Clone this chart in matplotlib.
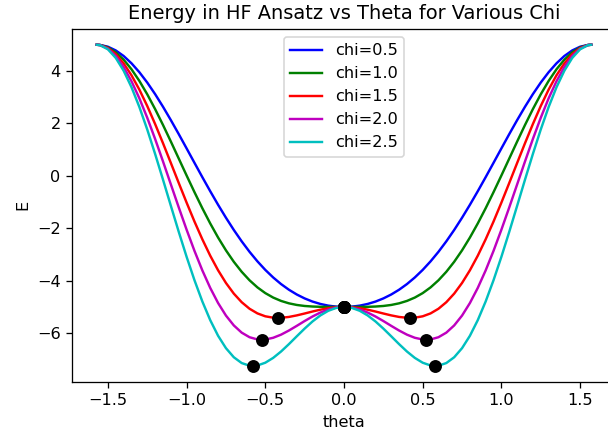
import matplotlib
matplotlib.use("Agg")
import matplotlib.pyplot as plt

# theta grid
theta = [-1.571, -1.55, -1.5, -1.45, -1.4, -1.35, -1.3, -1.25, -1.2, -1.15, -1.1,
         -1.05, -1.0, -0.95, -0.9, -0.85, -0.8, -0.75, -0.7, -0.65, -0.6, -0.55,
         -0.5, -0.45, -0.4, -0.35, -0.3, -0.25, -0.2, -0.15, -0.1, -0.05,
         0.0,
         0.05, 0.1, 0.15, 0.2, 0.25, 0.3, 0.35, 0.4, 0.45, 0.5, 0.55, 0.6, 0.65,
         0.7, 0.75, 0.8, 0.85, 0.9, 0.95, 1.0, 1.05, 1.1, 1.15, 1.2, 1.25, 1.3,
         1.35, 1.4, 1.45, 1.5, 1.55, 1.571]

chis = [0.5, 1.0, 1.5, 2.0, 2.5]
colors = ['b', 'g', 'r', 'm', 'c']

E_05 = [5.000, 4.994, 4.925, 4.783, 4.571, 4.292, 3.952, 3.558, 3.117, 2.636, 2.125,
        1.593, 1.047, 0.497, -0.050, -0.585, -1.103, -1.597, -2.064, -2.498, -2.898,
        -3.261, -3.587, -3.875, -4.127, -4.343, -4.525, -4.675, -4.795, -4.886,
        -4.950, -4.988,
        -5.000,
        -4.988, -4.950, -4.886, -4.795, -4.675, -4.525, -4.343, -4.127, -3.875,
        -3.587, -3.261, -2.898, -2.498, -2.064, -1.597, -1.103, -0.585, -0.050,
        0.497, 1.047, 1.593, 2.125, 2.636, 3.117, 3.558, 3.952, 4.292, 4.571, 4.783,
        4.925, 4.994, 5.000]

E_10 = [5.000, 4.991, 4.900, 4.712, 4.431, 4.064, 3.620, 3.110, 2.546, 1.941, 1.308,
        0.661, 0.014, -0.622, -1.235, -1.814, -2.352, -2.841, -3.278, -3.659, -3.984,
        -4.254, -4.472, -4.642, -4.770, -4.862, -4.924, -4.963, -4.984, -4.995,
        -4.999, -5.000,
        -5.000,
        -5.000, -4.999, -4.995, -4.984, -4.963, -4.924, -4.862, -4.770, -4.642,
        -4.472, -4.254, -3.984, -3.659, -3.278, -2.841, -2.352, -1.814, -1.235,
        -0.622, 0.014, 0.661, 1.308, 1.941, 2.546, 3.110, 3.620, 4.064, 4.431, 4.712,
        4.900, 4.991, 5.000]

E_15 = [5.000, 4.989, 4.875, 4.640, 4.290, 3.835, 3.288, 2.663, 1.976, 1.246, 0.491,
        -0.270, -1.020, -1.742, -2.420, -3.044, -3.601, -4.085, -4.492, -4.819,
        -5.069, -5.246, -5.357, -5.409, -5.413, -5.381, -5.322, -5.250, -5.174,
        -5.104, -5.048, -5.012,
        -5.000,
        -5.012, -5.048, -5.104, -5.174, -5.250, -5.322, -5.381, -5.413, -5.409,
        -5.357, -5.246, -5.069, -4.819, -4.492, -4.085, -3.601, -3.044, -2.420,
        -1.742, -1.020, -0.270, 0.491, 1.246, 1.976, 2.663, 3.288, 3.835, 4.290,
        4.640, 4.875, 4.989, 5.000]

E_20 = [5.000, 4.987, 4.850, 4.569, 4.150, 3.607, 2.956, 2.215, 1.406, 0.551, -0.326,
        -1.201, -2.053, -2.861, -3.606, -4.273, -4.850, -5.329, -5.705, -5.980,
        -6.155, -6.239, -6.242, -6.176, -6.057, -5.899, -5.721, -5.537, -5.364,
        -5.213, -5.098, -5.025,
        -5.000,
        -5.025, -5.098, -5.213, -5.364, -5.537, -5.721, -5.899, -6.057, -6.176,
        -6.242, -6.239, -6.155, -5.980, -5.705, -5.329, -4.850, -4.273, -3.606,
        -2.861, -2.053, -1.201, -0.326, 0.551, 1.406, 2.215, 2.956, 3.607, 4.150,
        4.569, 4.850, 4.987, 5.000]

E_25 = [5.000, 4.985, 4.826, 4.497, 4.010, 3.379, 2.624, 1.767, 0.835, -0.144, -1.143,
        -2.133, -3.087, -3.980, -4.791, -5.502, -6.099, -6.572, -6.919, -7.140,
        -7.241, -7.232, -7.127, -6.943, -6.700, -6.418, -6.119, -5.825, -5.553,
        -5.323, -5.147, -5.037,
        -5.000,
        -5.037, -5.147, -5.323, -5.553, -5.825, -6.119, -6.418, -6.700, -6.943,
        -7.127, -7.232, -7.241, -7.140, -6.919, -6.572, -6.099, -5.502, -4.791,
        -3.980, -3.087, -2.133, -1.143, -0.144, 0.835, 1.767, 2.624, 3.379, 4.010,
        4.497, 4.826, 4.985, 5.000]

energies = [E_05, E_10, E_15, E_20, E_25]

# black dots: stationary points of each curve
dot_theta = [[0.0], [0.0], [-0.4205, 0.0, 0.4205], [-0.5236, 0.0, 0.5236],
             [-0.5796, 0.0, 0.5796]]
dot_E = [[-5.0], [-5.0], [-5.4167, -5.0, -5.4167], [-6.25, -5.0, -6.25],
         [-7.25, -5.0, -7.25]]

DPI = 116
fig = plt.figure(figsize=(608 / DPI, 436 / DPI), dpi=DPI)
ax = fig.add_axes([72 / 608, 54 / 436, 544 / 608, 353.3 / 436])

for chi, col, E, dt, de in zip(chis, colors, energies, dot_theta, dot_E):
    ax.plot(theta, E, color=col, label=f"chi={chi}")
    ax.plot(dt, de, 'ko', markersize=7)

ax.set_title("Energy in HF Ansatz vs Theta for Various Chi")
ax.set_xlabel("theta")
ax.set_ylabel("E")
ax.legend(loc="upper center")

fig.savefig("out.png", dpi=DPI)
